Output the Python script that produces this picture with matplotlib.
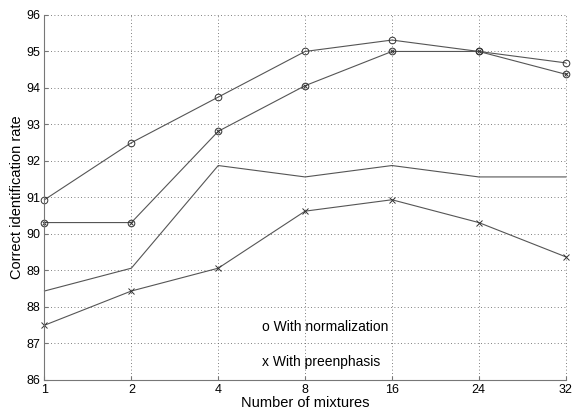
import matplotlib
matplotlib.use("Agg")
import matplotlib.pyplot as plt

mixtures = ["1", "2", "4", "8", "16", "24", "32"]
normalization = [90.9375, 92.5, 93.75, 95.0, 95.3125, 95.0, 94.6875]
norm_preemph = [90.3125, 90.3125, 92.8125, 94.0625, 95.0, 95.0, 94.375]
baseline = [88.4375, 89.0625, 91.875, 91.5625, 91.875, 91.5625, 91.5625]
preemphasis = [87.5, 88.4375, 89.0625, 90.625, 90.9375, 90.3125, 89.375]

plt.rcParams["font.family"] = ["Liberation Sans", "DejaVu Sans"]
plt.rcParams["font.size"] = 9

fig = plt.figure(figsize=(5.74, 4.12), dpi=100)
ax = fig.add_axes([0.0775, 0.0777, 0.908, 0.886])
xs = list(range(len(mixtures)))
lc = "#555555"
kw = dict(color=lc, lw=0.8, ms=4.8, mfc="none", mec="#333333", mew=0.7, clip_on=False)

ax.plot(xs, normalization, marker="o", **kw)
ax.plot(xs, norm_preemph, marker="o", **kw)
ax.plot(xs, norm_preemph, ls="none", marker="x", ms=3.5, mec="#333333", mew=0.7, clip_on=False)
ax.plot(xs, baseline, **kw)
ax.plot(xs, preemphasis, marker="x", **{**kw, "ms": 4.8})

ax.text(2.5, 87.46, "o With normalization", va="center", ha="left", fontsize=10)
ax.text(2.5, 86.48, "x With preenphasis", va="center", ha="left", fontsize=10)

ax.set_xlim(0, 6)
ax.set_ylim(86, 96)
ax.set_xticks(xs)
ax.set_xticklabels(mixtures)
ax.set_yticks(range(86, 97))
ax.grid(True, ls=(0, (1, 3)), color="#555555", lw=0.6)
for gl in ax.get_xgridlines() + ax.get_ygridlines():
    gl.set_clip_on(False)
ax.spines["top"].set_visible(False)
ax.spines["right"].set_visible(False)
ax.spines["left"].set_color("#777777")
ax.spines["bottom"].set_color("#777777")
ax.tick_params(direction="in", length=3, color="#777777", pad=3)
ax.set_xlabel("Number of mixtures", labelpad=0, fontsize=10.5)
ax.set_ylabel("Correct identification rate", labelpad=2, fontsize=10.5)

fig.savefig("out.png", dpi=100)
